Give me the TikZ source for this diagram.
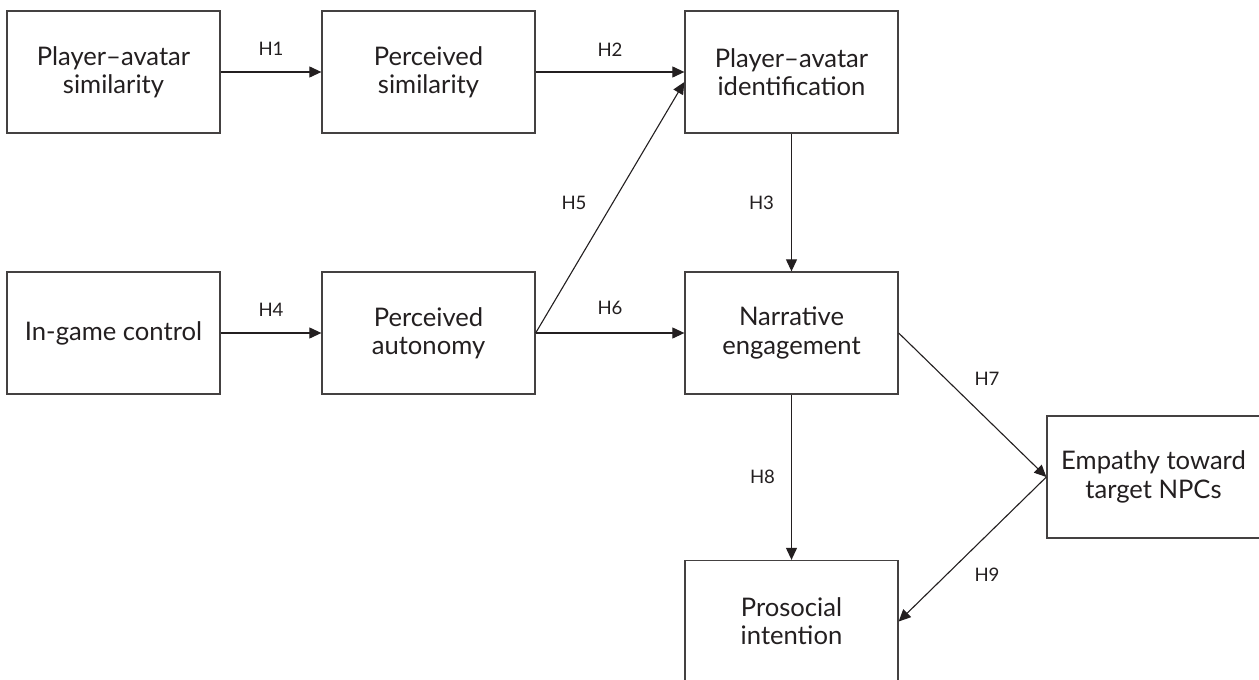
\documentclass[tikz,border=0pt]{standalone}
\usepackage{fontspec}
\setmainfont{Lato}
\usetikzlibrary{arrows.meta,calc}
\definecolor{ink}{HTML}{231F20}
\tikzset{
  box/.style={draw=ink!85, line width=1.3pt, minimum width=213pt, minimum height=122pt,
    align=center, text=ink, font=\fontsize{25.6}{28.3}\selectfont, inner sep=0pt},
  arr/.style={draw=ink, line width=1.1pt, -{Triangle[length=12pt,width=11pt]}},
  lbl/.style={text=ink, font=\fontsize{18.6}{20}\selectfont, inner sep=0pt}
}
\begin{document}
\begin{tikzpicture}[x=1pt,y=-1pt]
\useasboundingbox (0,0) rectangle (1259,680);
\clip (0,0) rectangle (1259,680);
\fill[white] (0,0) rectangle (1259,680);
\node[box] (psim) at (113.5,72) {Player–avatar\\similarity};
\node[box] (persim) at (428.5,72) {Perceived\\similarity};
\node[box] (pai) at (791.5,72) {Player–avatar\\identification};
\node[box] (igc) at (113.5,333) {In-game control};
\node[box] (pa) at (428.5,333) {Perceived\\autonomy};
\node[box] (ne) at (791.5,333) {Narrative\\engagement};
\node[box] (emp) at (1153.5,477) {Empathy toward\\target NPCs};
\node[box] (pro) at (791.5,621.5) {Prosocial\\intention};
\coordinate (h5end) at ($(pai.west)+(0,10)$);
\draw[arr] (psim) -- (persim) node[lbl, midway, yshift=23pt] (l1) {H1};
\draw[arr] (persim) -- (pai) node[lbl, midway, yshift=22pt] (l2) {H2};
\draw[arr] (pai) -- (ne) node[lbl, midway, xshift=-30pt] (l3) {H3};
\draw[arr] (igc) -- (pa) node[lbl, midway, yshift=23pt] (l4) {H4};
\draw[arr] (pa.east) -- (h5end) node[lbl, midway, xshift=-36pt, yshift=4.5pt] (l5) {H5};
\draw[arr] (pa) -- (ne) node[lbl, midway, yshift=25pt] (l6) {H6};
\draw[arr] (ne.east) -- (emp.west) node[lbl, midway, xshift=14.5pt, yshift=26pt] (l7) {H7};
\draw[arr] (ne) -- (pro) node[lbl, midway, xshift=-29pt] (l8) {H8};
\draw[arr] (emp.west) -- (pro.east) node[lbl, midway, xshift=14.5pt, yshift=-25.5pt] (l9) {H9};
\end{tikzpicture}
\end{document}
